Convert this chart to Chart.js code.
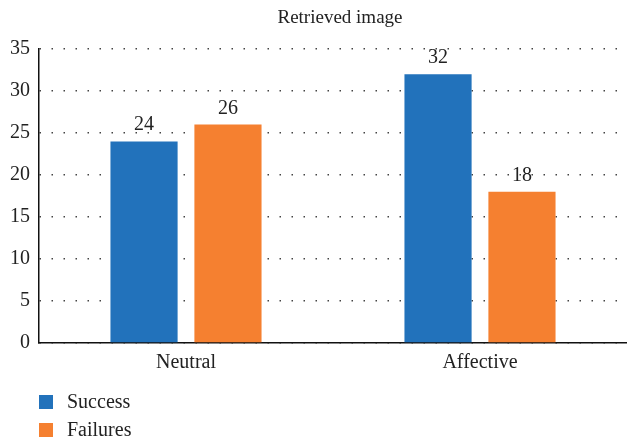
<!DOCTYPE html>
<html>
<head>
<meta charset="utf-8">
<script src="https://cdn.jsdelivr.net/npm/chart.js@4"></script>
<style>
  body { margin: 0; background: #fff; }
  #wrap { position: relative; width: 627px; height: 439px; }
  .legend { position: absolute; left: 39px; font-family: "Liberation Serif", serif; font-size: 20px; color: #222; }
  .legend span.box { position: absolute; left: 0; width: 14px; height: 14px; }
  .legend span.txt { position: absolute; left: 28px; top: -1px; white-space: nowrap; line-height: 14px; }
</style>
</head>
<body>
<div id="wrap">
  <canvas id="canvas" width="627" height="439"></canvas>
  <div class="legend" style="top:395px"><span class="box" style="background:#2272bb"></span><span class="txt">Success</span></div>
  <div class="legend" style="top:423px"><span class="box" style="background:#f58030"></span><span class="txt">Failures</span></div>
</div>
<script>
const categories = ['Neutral', 'Affective'];
const success = [24, 32];
const failures = [26, 18];
const chartTitle = 'Retrieved image';
const font = '"Liberation Serif", serif';

// title over the plot area + value labels above each bar
const extras = {
    id: 'extras',
    afterDatasetsDraw(chart) {
        const ctx = chart.ctx;
        const area = chart.chartArea;
        ctx.save();
        ctx.fillStyle = '#222';
        ctx.textAlign = 'center';
        ctx.textBaseline = 'middle';
        ctx.font = '19px ' + font;
        ctx.fillText(chartTitle, (area.left + area.right) / 2 + 7, 18);
        ctx.font = '20px ' + font;
        ctx.textBaseline = 'alphabetic';
        chart.data.datasets.forEach((ds, i) => {
            chart.getDatasetMeta(i).data.forEach((bar, j) => {
                ctx.fillText(ds.data[j], bar.x, bar.y - 11);
            });
        });
        ctx.restore();
    }
};

new Chart(document.getElementById('canvas'), {
    type: 'bar',
    data: {
        labels: categories,
        datasets: [
            { label: 'Success', data: success, backgroundColor: '#2272bb' },
            { label: 'Failures', data: failures, backgroundColor: '#f58030' }
        ]
    },
    options: {
        responsive: false,
        animation: false,
        categoryPercentage: 0.571,
        barPercentage: 0.8,
        layout: { padding: { top: 49, right: 0, bottom: 0, left: 0 } },
        plugins: {
            legend: { display: false },
            title: { display: false },
            tooltip: { enabled: false }
        },
        scales: {
            x: {
                grid: { display: false, drawTicks: false },
                border: { display: true, color: '#111', width: 1.5 },
                ticks: { color: '#222', font: { family: font, size: 20 }, padding: 8 },
                afterFit: s => { s.height = 96; }
            },
            y: {
                min: 0,
                max: 35,
                ticks: { stepSize: 5, color: '#222', font: { family: font, size: 20 }, padding: 9 },
                grid: { color: '#444', lineWidth: 1.5, drawTicks: false },
                border: { display: true, color: '#111', width: 1.5, dash: [1.5, 10.5] },
                afterFit: s => { s.width = 39; }
            }
        }
    },
    plugins: [extras]
});
</script>
</body>
</html>
